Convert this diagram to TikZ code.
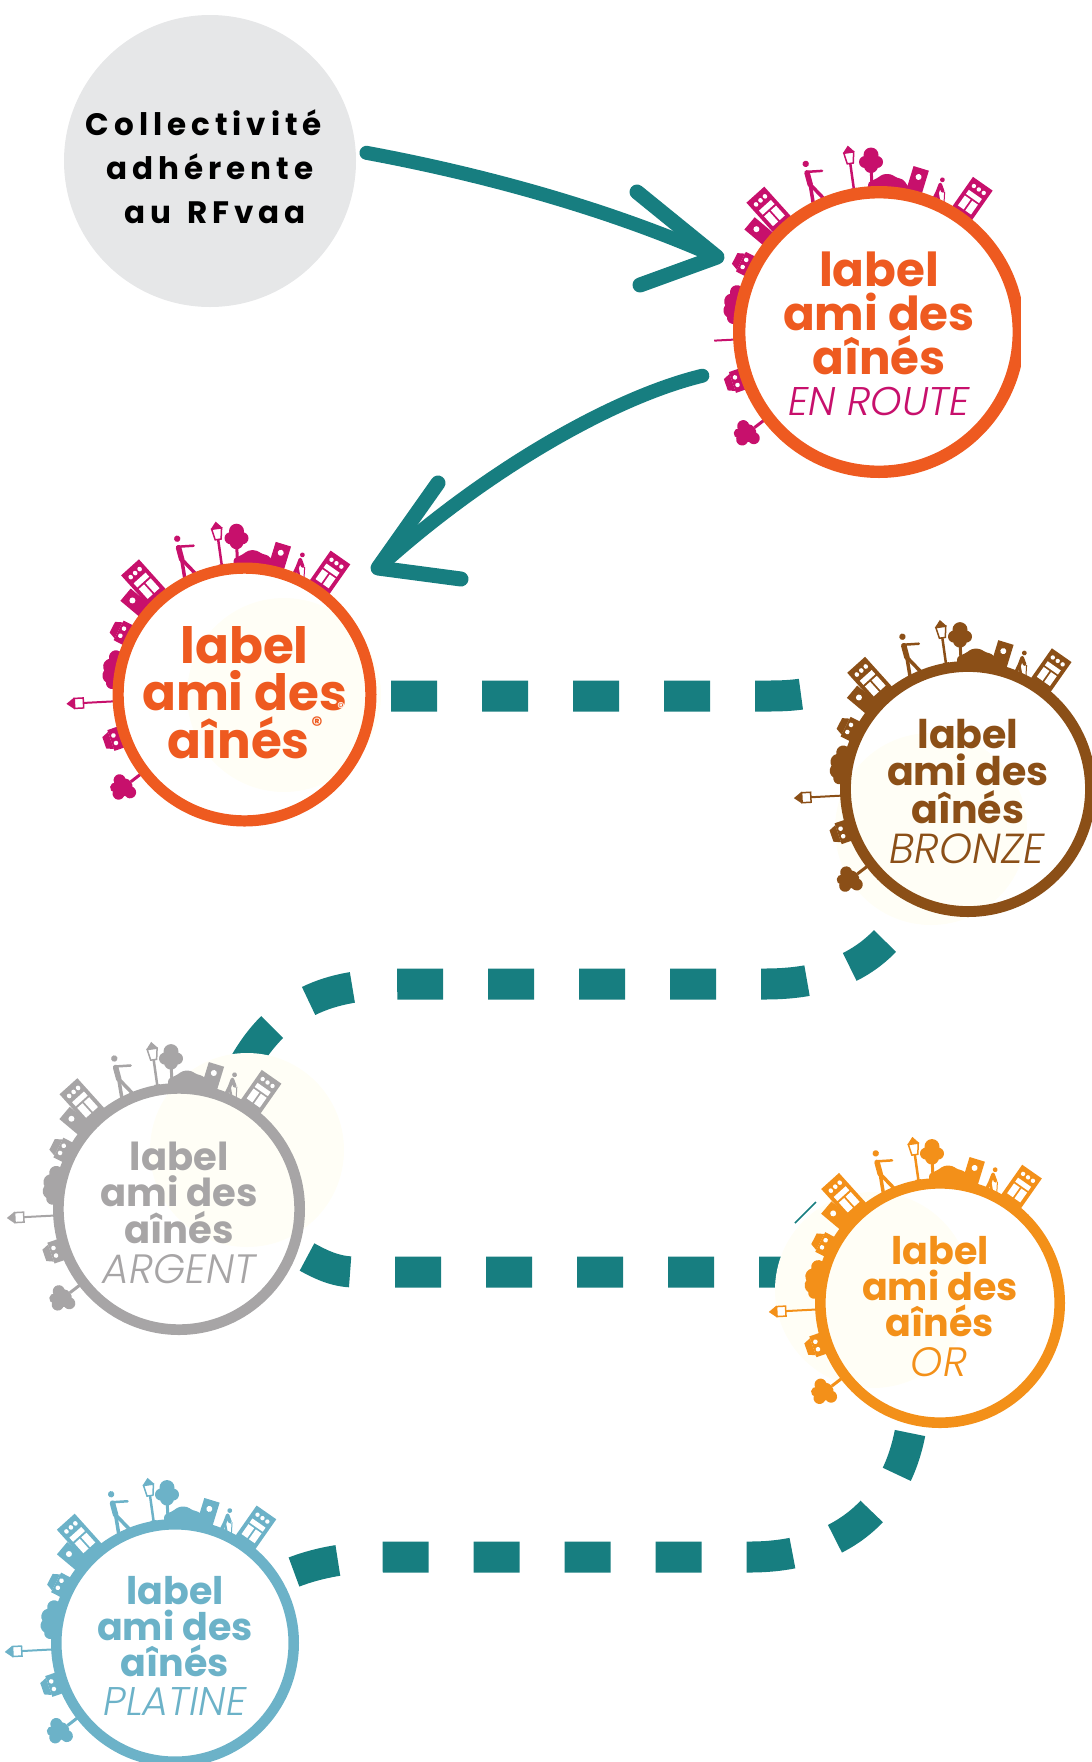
\documentclass[tikz,border=0pt]{standalone}
\usepackage{fontspec}
\newfontfamily\logofont{Poppins Bold}
\newfontfamily\subfont{Poppins Light Italic}
\newfontfamily\bubblefont{Poppins Bold}[LetterSpace=16]

\definecolor{teal}{HTML}{177E80}
\definecolor{bubble}{HTML}{E6E7E8}
\definecolor{ivory}{HTML}{FFFEF6}
\definecolor{orange}{HTML}{EE5A20}
\definecolor{magenta}{HTML}{C7106C}
\definecolor{bronze}{HTML}{8B4F17}
\definecolor{argent}{HTML}{A7A5A6}
\definecolor{gold}{HTML}{F39019}
\definecolor{platine}{HTML}{6CB2C8}

\newif\iflantern
\lanterntrue

\tikzset{
    tower/.pic={
        \fill[skycol] (-12,-6) rectangle (12,38);
        \fill[white] (-8,20) rectangle (8,25) (-8,6) rectangle (-1,18) (1,6) rectangle (8,18);
        \fill[white] (-6,31) circle (2.2) (0,31) circle (2.2) (6,31) circle (2.2);
    },
    door/.pic={
        \fill[skycol] (-8,-6) rectangle (8,26);
        \fill[white] (0,17) circle (3);
    },
    cottage/.pic={
        \fill[skycol] (-11,-6) rectangle (11,12);
        \fill[skycol] (-9,12) -- (-6,19) -- (6,19) -- (9,12) -- cycle;
        \fill[white] (-4,8) circle (2.3) (4,8) circle (2.3);
    },
    elder/.pic={
        \fill[skycol] (1,22) circle (2.4);
        \draw[skycol,line width=3.5pt,line cap=round,line join=round] (-3,0) -- (-1,9) -- (0,17) -- (4,11);
        \draw[skycol,line width=2.5pt,line cap=round] (-1,9) -- (3,0);
        \draw[skycol,line width=1pt] (6,11) -- (8,0);
    },
    walker/.pic={
        \fill[skycol] (0,41) circle (3.2);
        \draw[skycol,line width=5.5pt,line cap=round,line join=round] (-1,32) -- (-1,20);
        \draw[skycol,line width=2.5pt,line cap=round,line join=round] (-1,33) -- (14,30);
        \draw[skycol,line width=3.5pt,line cap=round,line join=round] (-1,20) -- (-3,0);
        \draw[skycol,line width=3.5pt,line cap=round,line join=round] (-1,20) -- (10,0);
    },
    lamp/.pic={
        \draw[skycol,line width=2.5pt] (0,-2) -- (0,28);
        \fill[skycol] (-3,-3) rectangle (3,3);
        \filldraw[fill=white,draw=skycol,line width=1.5pt] (-3,28) -- (-5,39) -- (5,39) -- (3,28) -- cycle;
        \fill[skycol] (-6,39) -- (0,46) -- (6,39) -- cycle;
    },
    parkscene/.pic={
        \fill[skycol] (-8,34) circle (7.5) (-14,27) circle (6) (-2,27) circle (6) (-8,23) circle (7);
        \draw[skycol,line width=3pt] (-8,23) -- (-7,3);
        \fill[skycol,rounded corners=3pt] (-11,-3) -- (-11,7) -- (-3,10) -- (4,15) -- (12,15) -- (18,11) -- (24,10) -- (33,-3) -- cycle;
    },
    bush/.pic={
        \fill[skycol] (-14,3) circle (6) (-7,6) circle (8) (2,7) circle (8) (12,4) circle (7);
    },
    streetlamp/.pic={
        \iflantern
            \draw[skycol,line width=2pt] (0,0) -- (0,32);
            \filldraw[fill=white,draw=skycol,line width=1.5pt] (-5,32) -- (-5,41) -- (5,41) -- (5,32) -- cycle;
            \fill[skycol] (-6,41) -- (0,49) -- (6,41) -- cycle;
        \else
            \draw[skycol,line width=2pt] (0,0) -- (0,22);
        \fi
    },
    roundtree/.pic={
        \draw[skycol,line width=3pt] (0,0) -- (0,14);
        \fill[skycol] (0,23) circle (9) (-8,21) circle (6) (8,22) circle (6) (-2,31) circle (6) (5,30) circle (5);
    },
    ringnode/.style={circle,fill=none},
    labeltext/.style={anchor=base,inner sep=0pt},
    subtext/.style={anchor=base,inner sep=0pt,font=\subfont\fontsize{#1}{#1}\selectfont},
    brush/.style={draw=teal,line width=14pt,line cap=round,line join=round},
    dashline/.style={draw=teal,line width=31pt,dash pattern=on 46pt off 45pt},
}

% angle on the ring, extra options, pic
\newcommand{\onring}[3]{\pic[rotate=#1,#2] at ({90+#1}:143) {#3};}

\newcommand{\skyline}{
    \onring{-35}{}{tower}
    \onring{-23.6}{rotate=10}{elder}
    \onring{-14}{rotate=-3}{door}
    \onring{0}{}{parkscene}
    \onring{10}{rotate=-2}{lamp}
    \onring{26}{rotate=-11}{walker}
    \onring{42}{xscale=-1,yscale=1.1}{tower}
    \onring{50}{}{door}
    \onring{63}{}{cottage}
    \onring{79}{}{bush}
    \onring{93}{}{streetlamp}
    \onring{109}{}{cottage}
    \onring{127.5}{}{roundtree}
}

% name, x, y, radius, ring colour, sky colour, font size, first baseline, shift of last line
\newcommand{\labellogo}[9]{
    \begin{scope}[shift={(#2,-#3)},scale=#4/146]
        \colorlet{skycol}{#6}
        \skyline
    \end{scope}
    \node[ringnode,draw=#5,line width={#4*0.085pt},minimum size={2*#4*1pt-#4*0.085pt}] (#1) at (#2,-#3) {};
    \node[labeltext,text=#5,font=\logofont\fontsize{#7}{#7}\selectfont] (#1-a) at (#2,{-#3-#8}) {label};
    \node[labeltext,text=#5,font=\logofont\fontsize{#7}{#7}\selectfont] (#1-b) at (#2,{-#3-#8-0.95*#7}) {ami des};
    \node[labeltext,text=#5,font=\logofont\fontsize{#7}{#7}\selectfont] (#1-c) at (#2+#9,{-#3-#8-1.9*#7}) {aînés};
}

\begin{document}
\begin{tikzpicture}[x=1pt,y=1pt]
    \useasboundingbox (0,0) rectangle (1092,-1762);

    \node[circle,fill=bubble,minimum size=292pt,inner sep=0pt,outer sep=0pt] (collect) at (210,-161) {};
    \node[align=center,inner sep=0pt,font=\bubblefont\fontsize{31}{44}\selectfont] (collecttext) at (210,-167)
        {\hspace*{-12pt}Collectivité\\adhérente\\\hspace*{10pt}au\hspace{5pt} RFvaa};

    % dashed route
    \coordinate (labelright) at (391,-696);
    \coordinate (bronzeleft) at (802,-694);
    \coordinate (bronzeout) at (885,-941);
    \coordinate (argentin) at (240,-1072);
    \coordinate (argentout) at (307,-1257);
    \coordinate (orin) at (790,-1272);
    \coordinate (orout) at (910,-1433);
    \coordinate (platinein) at (294,-1572);
    \draw[dashline] (labelright) -- (770,-696) .. controls (785,-696) and (795,-695) .. (bronzeleft);
    \draw[dashline,dash phase=2pt] (bronzeout) .. controls (855,-972) and (815,-984) .. (765,-984) -- (400,-984) .. controls (340,-984) and (280,-995) .. (argentin);
    \draw[dashline] (argentout) .. controls (320,-1264) and (335,-1272) .. (355,-1272) -- (orin);
    \draw[dashline,dash phase=2.5pt] (orout) .. controls (895,-1510) and (840,-1557) .. (750,-1557) -- (383,-1557) .. controls (350,-1557) and (320,-1562) .. (platinein);

    \foreach \cx/\cy/\cr in {284/695/97,931/829/96,247/1150/97,873/1290/98}
        \fill[ivory] (\cx,-\cy) circle (\cr);

    \lanternfalse
    \labellogo{enroute}{879}{332}{146}{orange}{magenta}{46.8}{-46}{0}
    \lanterntrue
    \fill[white] (1021,-180) rectangle (1092,-490);
    \node[subtext=40,text=magenta] (enroute-sub) at (879,-415) {EN ROUTE};

    \labellogo{label}{244.5}{694.5}{132}{orange}{magenta}{50}{-31.5}{-6}
    \node[inner sep=0pt,text=orange,font=\logofont\fontsize{22}{22}\selectfont] (label-reg) at (317,-725) {®};
    \node[inner sep=0pt,text=white,font=\logofont\fontsize{14}{14}\selectfont] (label-reg2) at (341,-707) {®};

    \labellogo{bronzelogo}{968}{789}{128}{bronze}{bronze}{39.5}{-41}{0}
    \node[subtext=42,text=bronze] (bronze-sub) at (967,-863) {BRONZE};

    \labellogo{argentlogo}{179}{1209}{126}{argent}{argent}{38.5}{-39}{0}
    \node[subtext=41,text=argent] (argent-sub) at (179,-1283) {ARGENT};

    \labellogo{orlogo}{940}{1303}{125}{gold}{gold}{38}{-38.7}{0}
    \node[subtext=41,text=gold] (or-sub) at (939,-1376) {OR};

    \labellogo{platinelogo}{175}{1643}{124}{platine}{platine}{38}{-39}{0}
    \node[subtext=40,text=platine] (platine-sub) at (175,-1715) {PLATINE};

    % thin stray stroke
    \coordinate (straya) at (795,-1223);
    \coordinate (strayb) at (816,-1202);
    \draw[teal,line width=1.5pt] (straya) -- (strayb);

    % hand drawn arrows
    \coordinate (tipa) at (717,-257);
    \coordinate (barbaa) at (637,-192);
    \coordinate (barbab) at (640,-285);
    \coordinate (tipb) at (378,-568);
    \coordinate (barbba) at (438,-483);
    \coordinate (barbbb) at (461,-579);
    \draw[brush,shorten <=11pt] (collect.4) .. controls (470,-172) and (600,-205) .. (tipa);
    \draw[brush,line width=15pt] (barbaa) -- (tipa) -- (barbab);
    \draw[brush,shorten <=36pt] (enroute.194) .. controls (610,-398) and (480,-475) .. (tipb);
    \draw[brush,line width=15pt] (barbba) -- (tipb) -- (barbbb);
\end{tikzpicture}
\end{document}
